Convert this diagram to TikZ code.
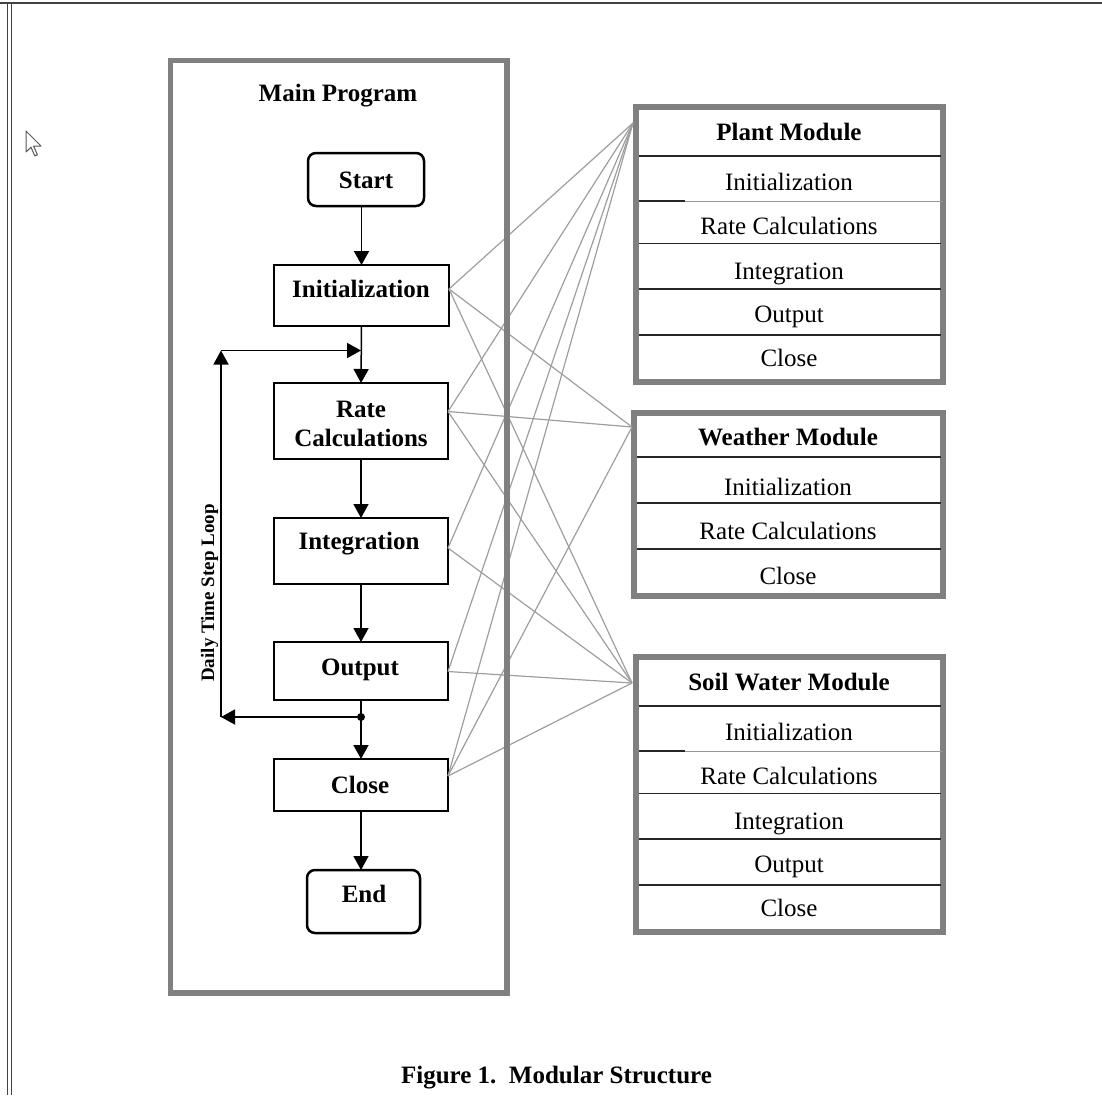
\documentclass[tikz,border=0pt]{standalone}
\usepackage{fontspec}
\setmainfont{Liberation Serif}
\usetikzlibrary{arrows.meta,calc}
\definecolor{framegray}{RGB}{128,128,128}
\definecolor{conngray}{RGB}{158,158,158}
\definecolor{edgegray}{RGB}{65,65,65}
\definecolor{lightdiv}{RGB}{150,150,150}
\begin{document}
\begin{tikzpicture}[x=1pt,y=-1pt,
  fbox/.style={draw=black, line width=2.5pt, rectangle, inner sep=0pt, outer sep=0pt},
  rbox/.style={fbox, rounded corners=8pt},
  grayframe/.style={draw=framegray, line width=5.5pt, rectangle, inner sep=0pt, outer sep=0pt},
  btxt/.style={font=\fontsize{25}{29}\selectfont\bfseries, inner sep=0pt, text height=17pt, text depth=0pt},
  rtxt/.style={font=\fontsize{25}{29}\selectfont, inner sep=0pt, text height=17pt, text depth=0pt},
  flow/.style={line width=1.5pt, -{Triangle[length=14pt,width=15pt]}},
  conn/.style={draw=conngray, line width=1.2pt},
  divider/.style={line width=1.4pt, black!85}]
\useasboundingbox (0,0) rectangle (1102,1095);

% screen frame
\draw[edgegray, line width=2pt] (0,2.5) -- (1102,2.5);
\draw[edgegray, line width=1.4pt] (7.7,2.5) -- (7.7,1095);
\draw[edgegray, line width=1.4pt] (11.3,2.5) -- (11.3,1095);
% mouse pointer
\draw[fill=white, draw=black!65, line width=1pt, line join=round]
  (26,131) -- (26,152) -- (31,147.2) -- (34.8,156) -- (37.4,154.8) -- (33.6,146) -- (41,146) -- cycle;

% flowchart boxes
\node[rbox, minimum width=116pt, minimum height=53pt] (start) at (366,179.5) {};
\node[fbox, minimum width=175pt, minimum height=61pt] (init) at (361.5,295.5) {};
\node[fbox, minimum width=174pt, minimum height=76pt] (rate) at (361,421) {};
\node[fbox, minimum width=174pt, minimum height=66pt] (integ) at (361,551) {};
\node[fbox, minimum width=174pt, minimum height=58pt] (output) at (361,671) {};
\node[fbox, minimum width=174pt, minimum height=52pt] (close) at (361,785) {};
\node[rbox, minimum width=113pt, minimum height=63pt] (end) at (363.5,901.5) {};

\node[btxt] (mainT) at (338,93) {Main Program};
\node[btxt] (startT) at (366,180) {Start};
\node[btxt] (initT) at (361,289) {Initialization};
\node[btxt] (rateT1) at (361,409) {Rate};
\node[btxt] (rateT2) at (361,437.5) {Calculations};
\node[btxt] (integT) at (359,541) {Integration};
\node[btxt] (outputT) at (360,666.5) {Output};
\node[btxt] (closeT) at (360,785) {Close};
\node[btxt] (endT) at (364,894) {End};

% flow arrows
\draw[flow] (init.north |- start.south) -- (init.north);
\draw[flow] (init.south) -- (rate.north);
\draw[flow] (rate.south) -- (integ.north);
\draw[flow] (integ.south) -- (output.north);
\draw[flow] (output.south) -- (close.north);
\draw[flow] (close.south) -- (close.south |- end.north);

% daily loop
\coordinate (dot) at (361,717);
\coordinate (loopL) at (221,717);
\coordinate (loopT) at (221,350.5);
\coordinate (loopR) at (361,350.5);
\fill (dot) circle (4pt);
\draw[flow] (dot) -- (loopL);
\draw[flow] (loopL) -- (loopT);
\draw[flow] (loopT) -- (loopR);
\node[font=\fontsize{19}{22}\selectfont\bfseries, rotate=90, inner sep=0pt] (loopLbl) at (209.5,593) {Daily Time Step Loop};

% module boxes
\node[grayframe, minimum width=307pt, minimum height=275pt] (plant) at (789.5,244.5) {};
\node[grayframe, minimum width=309pt, minimum height=183pt] (weather) at (788.5,504.5) {};
\node[grayframe, minimum width=307pt, minimum height=275pt] (soil) at (789.5,794.5) {};

% plant dividers
\draw[divider] (638.5,156) -- (940.5,156);
\draw[divider] (638.5,201) -- (685,201);
\draw[line width=1.4pt, lightdiv] (685,201.5) -- (943,201.5);
\draw[divider] (638.5,243.5) -- (940.5,243.5);
\draw[divider] (638.5,289) -- (940.5,289);
\draw[divider] (638.5,335) -- (940.5,335);
% weather dividers
\draw[divider] (636.5,457) -- (940.5,457);
\draw[divider] (636.5,503) -- (940.5,503);
\draw[divider] (636.5,549) -- (940.5,549);
% soil dividers
\draw[divider] (638.5,706) -- (940.5,706);
\draw[divider] (638.5,751) -- (685,751);
\draw[line width=1.4pt, lightdiv] (685,751.5) -- (943,751.5);
\draw[divider] (638.5,793.5) -- (940.5,793.5);
\draw[divider] (638.5,839) -- (940.5,839);
\draw[divider] (638.5,885) -- (940.5,885);

% module texts
\node[btxt] (plantH) at (789,132) {Plant Module};
\node[rtxt] (plant1) at (789,182) {Initialization};
\node[rtxt] (plant2) at (789,226) {Rate Calculations};
\node[rtxt] (plant3) at (789,271) {Integration};
\node[rtxt] (plant4) at (789,314) {Output};
\node[rtxt] (plant5) at (789,358) {Close};

\node[btxt] (weatherH) at (788,437) {Weather Module};
\node[rtxt] (weather1) at (788,487) {Initialization};
\node[rtxt] (weather2) at (788,531) {Rate Calculations};
\node[rtxt] (weather3) at (788,576) {Close};

\node[btxt] (soilH) at (789,682) {Soil Water Module};
\node[rtxt] (soil1) at (789,732) {Initialization};
\node[rtxt] (soil2) at (789,776) {Rate Calculations};
\node[rtxt] (soil3) at (789,821) {Integration};
\node[rtxt] (soil4) at (789,864) {Output};
\node[rtxt] (soil5) at (789,908) {Close};

% connection points
\coordinate (pP) at ($(plant.west |- 0,123)+(-3,0)$);
\coordinate (wP) at ($(weather.west |- 0,427)+(-2,0)$);
\coordinate (sP) at ($(soil.west |- 0,683)+(-4,0)$);
\coordinate (iP) at (init.east |- 0,289);
\coordinate (rP) at (rate.east |- 0,411.5);
\coordinate (gP) at (integ.east |- 0,548);
\coordinate (oP) at (output.east |- 0,671.5);
\coordinate (cP) at (close.east |- 0,776);

% connectors
\draw[conn] (iP) -- (pP);
\draw[conn] (iP) -- (wP);
\draw[conn] (iP) -- (sP);
\draw[conn] (rP) -- (pP);
\draw[conn] (rP) -- (wP);
\draw[conn] (rP) -- (sP);
\draw[conn] (gP) -- (pP);
\draw[conn] (gP) -- (sP);
\draw[conn] (oP) -- (pP);
\draw[conn] (oP) -- (sP);
\draw[conn] (cP) -- (pP);
\draw[conn] (cP) -- (wP);
\draw[conn] (cP) -- (sP);

% main program frame (over the connectors)
\node[grayframe, minimum width=336.5pt, minimum height=932.5pt] (main) at (338.75,526.75) {};

% caption
\node[btxt] (caption) at (556.5,1075) {Figure 1.\ \ Modular Structure};
\end{tikzpicture}
\end{document}
